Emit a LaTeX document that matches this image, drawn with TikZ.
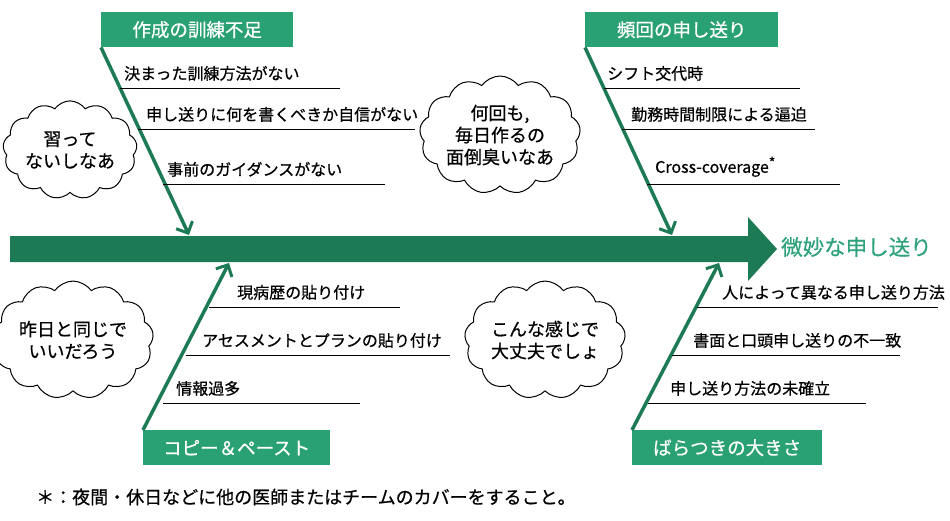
\documentclass[tikz,border=0pt]{standalone}
\usepackage{fontspec}
\setmainfont{Noto Sans CJK JP}[FakeBold=0.6]
\usetikzlibrary{arrows.meta,shapes.symbols}
\definecolor{boxg}{HTML}{2AA173}
\definecolor{spine}{HTML}{1C7A55}
\definecolor{titleg}{HTML}{2EA27A}
\begin{document}
\begin{tikzpicture}[x=1pt,y=-1pt,
  cat/.style={fill=boxg,text=white,font=\fontsize{18.5}{20}\selectfont,anchor=north west,minimum height=35pt,inner sep=0pt,text width=#1,align=center},
  bone/.style={draw=spine,line width=3.5pt,-{Straight Barb[length=9pt,width=18pt,line width=3pt]}},
  sub/.style={font=\fontsize{16}{18}\selectfont,anchor=south west,inner sep=0pt},
  ln/.style={draw=black,line width=0.8pt},
  thought/.style={cloud,cloud puffs=13,cloud puff arc=110,draw,line width=1pt,align=center,font=\fontsize{18}{22}\selectfont,inner sep=0pt,aspect=1.5}]
\useasboundingbox (0,0) rectangle (950,520);
% spine
\fill[spine] (10,236) -- (748,236) -- (748,217) -- (777,249) -- (748,281) -- (748,262) -- (10,262) -- cycle;
\node[anchor=west,text=titleg,font=\fontsize{21.5}{24}\selectfont,inner sep=0pt] (res) at (781,247) {微妙な申し送り};
% category boxes
\node[cat=192pt] (c1) at (101,12) {作成の訓練不足};
\node[cat=193pt] (c2) at (585,12) {頻回の申し送り};
\node[cat=187pt] (c3) at (143,430) {コピー＆ペースト};
\node[cat=190pt] (c4) at (632,430) {ばらつきの大きさ};
\coordinate (e1) at (189,235);
\coordinate (e2) at (672,235);
\coordinate (e3) at (229,263);
\coordinate (e4) at (719,263);
\draw[bone] (c1.south west) -- (e1);
\draw[bone] (c2.south west) -- (e2);
\draw[bone] (c3.north west) -- (e3);
\draw[bone] (c4.north west) -- (e4);
% sub causes top-left
\coordinate (a1) at (120,88); \coordinate (a1e) at (340,88);
\coordinate (a2) at (138,129); \coordinate (a2e) at (415,129);
\coordinate (a3) at (163,184); \coordinate (a3e) at (385,184);
\draw[ln] (a1) -- (a1e); \draw[ln] (a2) -- (a2e); \draw[ln] (a3) -- (a3e);
\node[sub] (t1) at (124,81) {決まった訓練方法がない};
\node[sub] (t2) at (146,122) {申し送りに何を書くべきか自信がない};
\node[sub] (t3) at (167,177) {事前のガイダンスがない};
% top-right
\coordinate (b1) at (604,88); \coordinate (b1e) at (800,88);
\coordinate (b2) at (622,129); \coordinate (b2e) at (815,129);
\coordinate (b3) at (647,184); \coordinate (b3e) at (840,184);
\draw[ln] (b1) -- (b1e); \draw[ln] (b2) -- (b2e); \draw[ln] (b3) -- (b3e);
\node[sub] (u1) at (607,81) {シフト交代時};
\node[sub] (u2) at (631,122) {勤務時間制限による逼迫};
\node[sub] (u3) at (655,177) {Cross-coverage{\fontsize{14}{14}\selectfont\raisebox{5pt}{*}}};
% bottom-left
\coordinate (d1) at (209,307); \coordinate (d1e) at (400,307);
\coordinate (d2) at (186,355); \coordinate (d2e) at (450,355);
\coordinate (d3) at (163,403); \coordinate (d3e) at (360,403);
\draw[ln] (d1) -- (d1e); \draw[ln] (d2) -- (d2e); \draw[ln] (d3) -- (d3e);
\node[sub] (v1) at (237,300) {現病歴の貼り付け};
\node[sub] (v2) at (202,348) {アセスメントとプランの貼り付け};
\node[sub] (v3) at (176,396) {情報過多};
% bottom-right
\coordinate (f1) at (697,307); \coordinate (f1e) at (938,307);
\coordinate (f2) at (672,355); \coordinate (f2e) at (900,355);
\coordinate (f3) at (648,403); \coordinate (f3e) at (866,403);
\draw[ln] (f1) -- (f1e); \draw[ln] (f2) -- (f2e); \draw[ln] (f3) -- (f3e);
\node[sub] (w1) at (722,300) {人によって異なる申し送り方法};
\node[sub] (w2) at (693,348) {書面と口頭申し送りの不一致};
\node[sub] (w3) at (670,396) {申し送り方法の未確立};
% thought clouds
\node[thought,minimum width=118pt,minimum height=82pt] (k1) at (70,150) {習って\\ないしなあ};
\node[thought,minimum width=150pt,minimum height=118pt] (k2) at (500,135) {何回も,\\毎日作るの\\面倒臭いなあ};
\node[thought,minimum width=132pt,minimum height=78pt] (k3) at (73,340) {昨日と同じで\\いいだろう};
\node[thought,minimum width=150pt,minimum height=88pt] (k4) at (545,340) {こんな感じで\\大丈夫でしょ};
% footnote
\node[anchor=west,inner sep=0pt,font=\fontsize{18}{20}\selectfont] (fn) at (36,497) {＊：夜間・休日などに他の医師またはチームのカバーをすること。};
\end{tikzpicture}
\end{document}
